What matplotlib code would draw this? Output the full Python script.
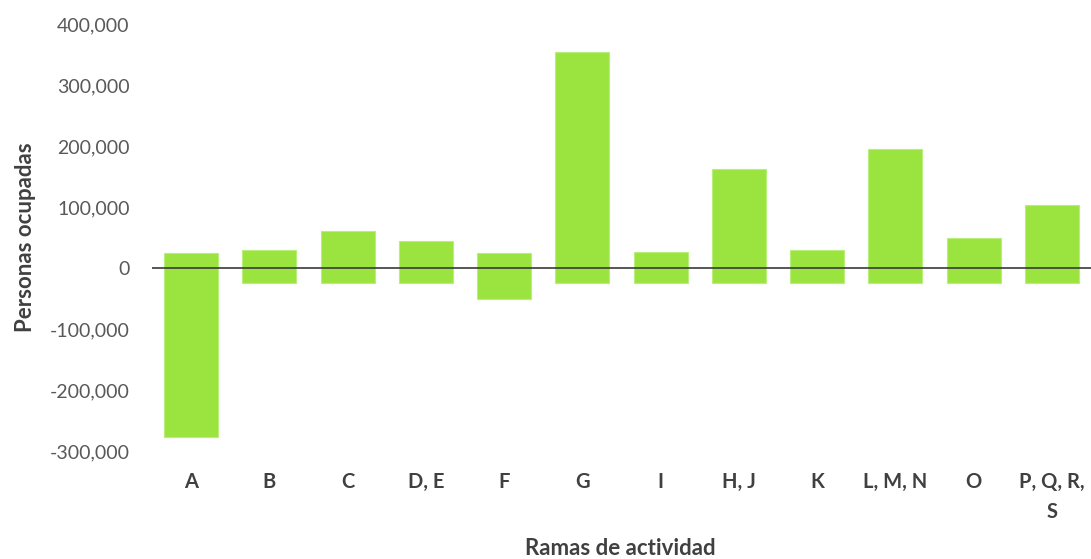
import numpy as np
import matplotlib.pyplot as plt
from matplotlib.ticker import FuncFormatter

# ramas de actividad
categorias = ['A', 'B', 'C', 'D, E', 'F', 'G', 'I', 'H, J', 'K', 'L, M, N', 'O', 'P, Q, R,\nS']
# extremo superior e inferior de cada barra (personas ocupadas)
valor_alto = [24000, 29500, 61000, 44000, 24000, 354000, 26000, 162000, 29500, 195000, 49000, 103000]
valor_bajo = [-277000, -24000, -24000, -24000, -51000, -24000, -24000, -24000, -24000, -24000, -24000, -24000]

plt.rcParams['font.family'] = ['Lato', 'DejaVu Sans']

fig = plt.figure(figsize=(10.91, 5.59), dpi=100)
ax = fig.add_axes([0.1393, 0.193, 0.8607, 0.764])

x = np.arange(len(categorias))
alto = np.array(valor_alto)
bajo = np.array(valor_bajo)
ax.bar(x, alto - bajo, bottom=bajo, width=0.69, color='#9BE43F',
       edgecolor='#B8EE7A', linewidth=0.8, zorder=2)
ax.axhline(0, color='#3a3a3a', linewidth=1.2, zorder=3)

ax.set_xlim(-0.5, len(categorias) - 0.5)
ax.set_ylim(-300000, 400000)
ax.set_yticks(np.arange(-300000, 400001, 100000))
ax.yaxis.set_major_formatter(FuncFormatter(lambda v, p: f'{int(v):,}'))
ax.set_xticks(x)
ax.set_xticklabels(categorias, fontweight='bold', color='#404040', fontsize=14.5,
                   linespacing=1.6, va='top')

for s in ax.spines.values():
    s.set_visible(False)
ax.tick_params(axis='both', length=0)
ax.tick_params(axis='y', labelsize=14, labelcolor='#595959', pad=16)
ax.tick_params(axis='x', pad=15)

ax.set_ylabel('Personas ocupadas', fontsize=16, fontweight='bold', color='#404040', labelpad=10)
fig.text(0.569, 0.018, 'Ramas de actividad', ha='center', va='center',
         fontsize=16, fontweight='bold', color='#404040')

fig.savefig('out.png', dpi=100)
